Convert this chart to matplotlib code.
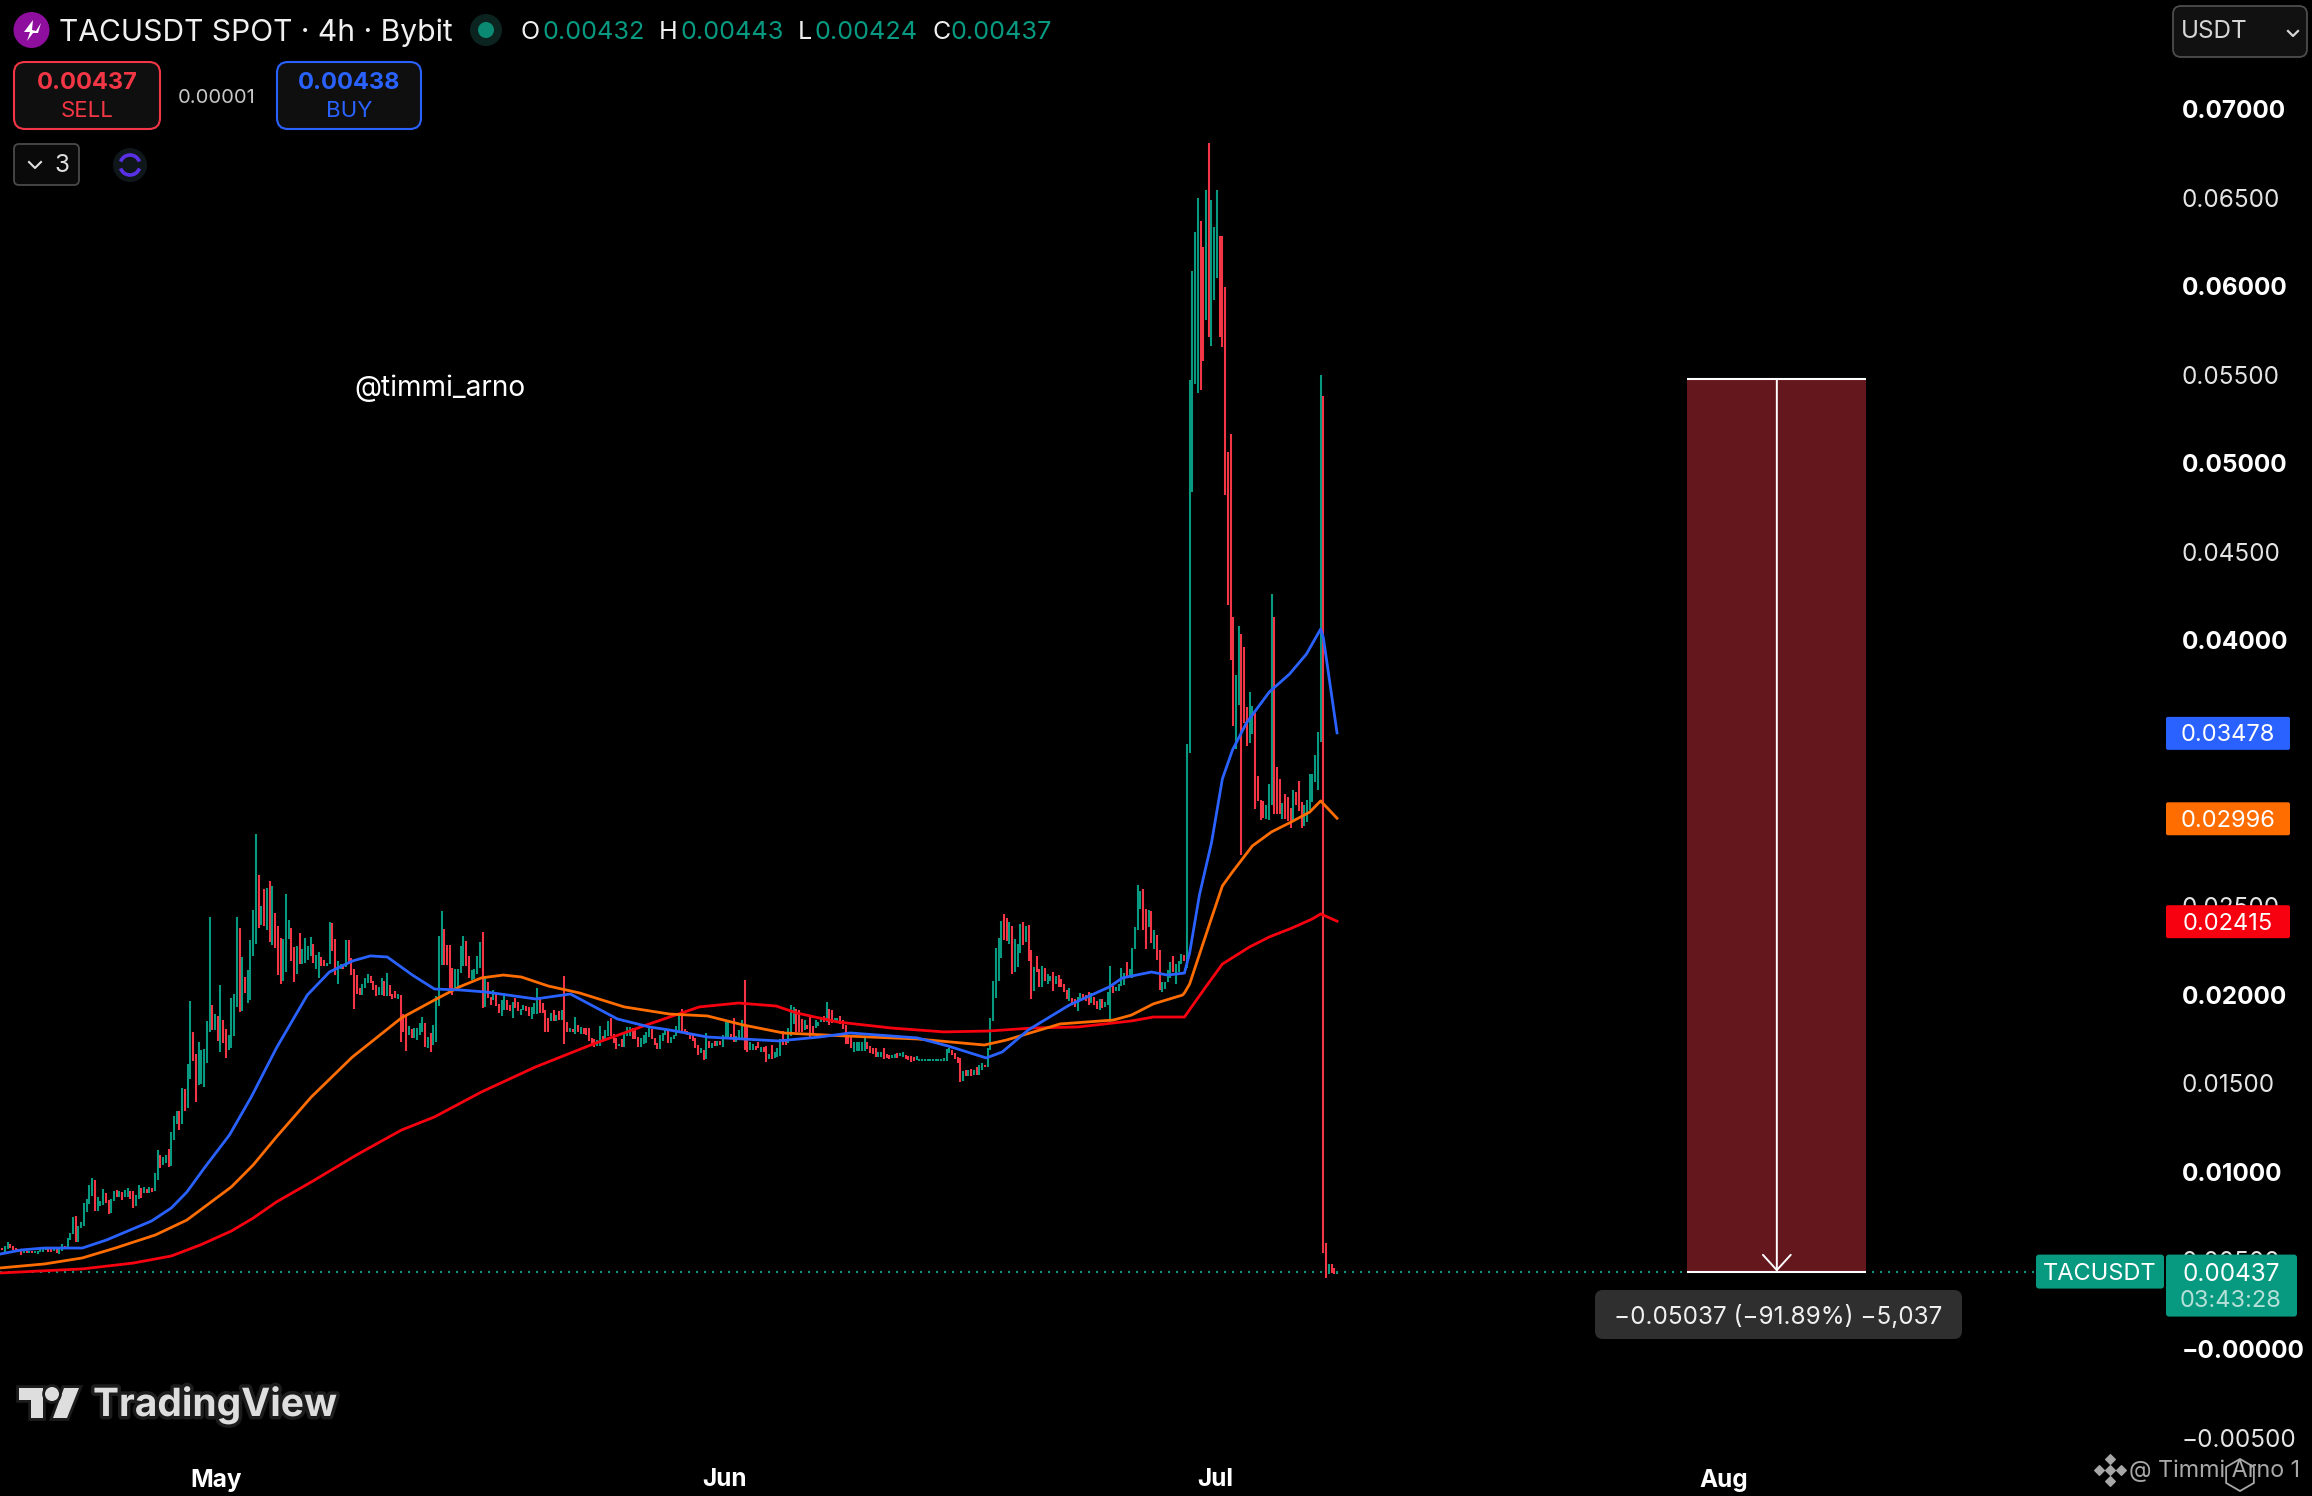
import numpy as np
import matplotlib
matplotlib.use("Agg")
import matplotlib.pyplot as plt
import matplotlib.patheffects as pe
from matplotlib.patches import Circle, FancyBboxPatch, Polygon, Rectangle, RegularPolygon, Arc

plt.rcParams['font.family'] = ['Inter', 'DejaVu Sans']

# candles are in units of 0.00001 USDT, ten per row, 4h each
candle_high = [
    570, 582, 604, 593, 582, 568, 563, 559, 557, 555,
    555, 555, 553, 553, 576, 566, 570, 570, 565, 563,
    565, 563, 591, 582, 627, 653, 745, 751, 694, 717,
    824, 847, 926, 965, 954, 858, 836, 903, 881, 841,
    847, 892, 898, 892, 886, 898, 909, 892, 892, 869,
    926, 909, 915, 903, 915, 909, 994, 1124, 1095, 1084,
    1095, 1129, 1225, 1316, 1344, 1344, 1474, 1468, 1609, 1965,
    1790, 1666, 1733, 1688, 1694, 1852, 2439, 1942, 1891, 1880,
    2055, 1858, 1807, 1773, 1982, 2004, 2439, 2377, 2213, 2100,
    2140, 2309, 2479, 2908, 2676, 2501, 2597, 2603, 2642, 2614,
    2462, 2388, 2321, 2315, 2569, 2422, 2377, 2270, 2275, 2349,
    2258, 2321, 2275, 2326, 2287, 2225, 2241, 2213, 2196, 2179,
    2411, 2405, 2315, 2191, 2174, 2168, 2309, 2309, 2207, 2145,
    2112, 2038, 2061, 2095, 2117, 2106, 2078, 2055, 2044, 2095,
    2078, 2123, 2055, 2004, 2021, 2004, 1999, 1891, 1880, 1824,
    1807, 1812, 1812, 1841, 1874, 1841, 1762, 1784, 1829, 1993,
    2332, 2473, 2371, 2281, 2281, 2151, 2145, 2145, 2275, 2332,
    2304, 2219, 2140, 2145, 2219, 2298, 2354, 2106, 2072, 1987,
    2027, 2010, 1948, 1970, 2010, 1970, 1942, 1959, 1982, 1959,
    1920, 1942, 1937, 1931, 1931, 1954, 2038, 1976, 1954, 1914,
    1869, 1897, 1914, 1886, 1908, 1914, 2106, 1846, 1812, 1807,
    1874, 1829, 1818, 1812, 1812, 1812, 1756, 1750, 1745, 1824,
    1767, 1801, 1852, 1869, 1778, 1756, 1722, 1750, 1790, 1818,
    1818, 1812, 1801, 1762, 1756, 1773, 1790, 1812, 1807, 1756,
    1728, 1773, 1784, 1807, 1801, 1762, 1773, 1824, 1886, 1920,
    1807, 1795, 1784, 1773, 1756, 1716, 1699, 1688, 1784, 1739,
    1728, 1739, 1739, 1739, 1773, 1846, 1846, 1778, 1869, 1767,
    1801, 1858, 2083, 1829, 1733, 1722, 1711, 1733, 1705, 1705,
    1711, 1666, 1716, 1677, 1699, 1750, 1795, 1745, 1812, 1942,
    1931, 1920, 1914, 1863, 1858, 1829, 1886, 1824, 1858, 1846,
    1863, 1880, 1959, 1920, 1914, 1869, 1869, 1880, 1858, 1829,
    1773, 1762, 1733, 1733, 1733, 1733, 1756, 1733, 1711, 1699,
    1699, 1677, 1677, 1699, 1666, 1660, 1660, 1666, 1671, 1671,
    1677, 1660, 1654, 1654, 1649, 1654, 1637, 1635, 1635, 1635,
    1635, 1635, 1635, 1639, 1639, 1643, 1694, 1699, 1688, 1671,
    1651, 1643, 1570, 1575, 1575, 1581, 1575, 1592, 1603, 1615,
    1603, 1699, 1869, 2078, 2264, 2321, 2416, 2456, 2433, 2411,
    2388, 2315, 2287, 2400, 2411, 2388, 2394, 2253, 2157, 2219,
    2145, 2162, 2151, 2117, 2106, 2129, 2106, 2112, 2089, 2061,
    2027, 2038, 1982, 1976, 1987, 2010, 2004, 1999, 2016, 2010,
    1987, 1965, 1976, 1976, 1959, 2016, 2162, 2049, 2044, 2061,
    2151, 2123, 2185, 2145, 2264, 2383, 2620, 2586, 2597, 2484,
    2479, 2473, 2366, 2337, 2253, 2072, 2072, 2140, 2185, 2219,
    2174, 2191, 2230, 2225, 3415, 5470, 6085, 6305, 6497, 6368,
    6221, 6543, 6808, 6486, 6334, 6543, 6283, 6283, 5995, 5064,
    5165, 4132, 3805, 4081, 4036, 3963, 3624, 3709, 3630, 3590,
    3235, 3099, 3094, 3071, 3190, 4262, 4132, 3285, 3218, 3082,
    3133, 3116, 3054, 3156, 3144, 3206, 3088, 3071, 3099, 3246,
    3246, 3353, 3483, 5498, 5380, 598, 480, 480, 457, 443,
]
candle_low = [
    561, 548, 566, 570, 559, 553, 550, 531, 544, 542,
    544, 542, 544, 536, 548, 548, 559, 548, 548, 551,
    542, 536, 551, 566, 566, 615, 649, 604, 604, 683,
    694, 774, 819, 864, 779, 779, 807, 813, 824, 762,
    768, 836, 858, 858, 841, 858, 858, 847, 796, 807,
    847, 853, 881, 881, 881, 886, 892, 954, 1022, 1039,
    1050, 1027, 1033, 1180, 1270, 1236, 1270, 1344, 1361, 1524,
    1626, 1395, 1491, 1496, 1479, 1615, 1790, 1801, 1801, 1739,
    1677, 1728, 1643, 1688, 1699, 1767, 1931, 1903, 1908, 2010,
    1954, 1970, 2219, 2287, 2377, 2394, 2388, 2366, 2298, 2281,
    2264, 2112, 2061, 2078, 2129, 2315, 2191, 2072, 2117, 2174,
    2174, 2179, 2196, 2219, 2179, 2145, 2095, 2162, 2162, 2162,
    2174, 2247, 2112, 2061, 2145, 2145, 2157, 2179, 2112, 1920,
    2004, 1999, 1999, 2038, 2066, 2066, 2027, 1993, 1999, 1999,
    1993, 1993, 1993, 1976, 1982, 1976, 1733, 1790, 1683, 1773,
    1756, 1756, 1745, 1773, 1790, 1705, 1699, 1677, 1716, 1733,
    1937, 2168, 2168, 2168, 2027, 1999, 2027, 2038, 2123, 2162,
    2162, 2095, 2083, 2089, 2117, 2151, 1925, 1931, 1982, 1942,
    1970, 1937, 1897, 1880, 1914, 1914, 1908, 1869, 1925, 1908,
    1886, 1914, 1908, 1880, 1863, 1891, 1891, 1897, 1897, 1790,
    1790, 1852, 1852, 1852, 1858, 1858, 1722, 1790, 1790, 1790,
    1778, 1790, 1778, 1778, 1773, 1739, 1716, 1705, 1711, 1711,
    1739, 1752, 1767, 1767, 1726, 1694, 1711, 1705, 1705, 1767,
    1767, 1750, 1750, 1705, 1705, 1722, 1728, 1762, 1750, 1716,
    1694, 1694, 1739, 1773, 1728, 1728, 1750, 1767, 1790, 1790,
    1778, 1773, 1750, 1739, 1699, 1660, 1671, 1632, 1637, 1699,
    1699, 1711, 1711, 1716, 1705, 1762, 1762, 1750, 1733, 1733,
    1745, 1750, 1688, 1677, 1688, 1688, 1688, 1699, 1677, 1677,
    1620, 1637, 1637, 1643, 1649, 1654, 1716, 1714, 1728, 1767,
    1835, 1790, 1790, 1790, 1801, 1807, 1750, 1773, 1812, 1824,
    1846, 1846, 1846, 1829, 1841, 1846, 1846, 1835, 1807, 1722,
    1722, 1699, 1677, 1682, 1682, 1682, 1682, 1694, 1671, 1666,
    1649, 1649, 1649, 1637, 1643, 1637, 1643, 1643, 1643, 1654,
    1649, 1637, 1632, 1620, 1626, 1632, 1626, 1626, 1628, 1628,
    1628, 1628, 1628, 1628, 1628, 1628, 1628, 1673, 1660, 1637,
    1613, 1507, 1513, 1541, 1541, 1541, 1547, 1547, 1547, 1575,
    1592, 1592, 1688, 1852, 1982, 2078, 2208, 2309, 2304, 2287,
    2117, 2129, 2157, 2236, 2281, 2298, 2191, 1976, 2021, 2129,
    2044, 2044, 2078, 2061, 2078, 2021, 2061, 2044, 2044, 2016,
    1976, 1965, 1954, 1931, 1908, 1965, 1970, 1965, 1942, 1954,
    1942, 1920, 1914, 1925, 1931, 1942, 1846, 2010, 2021, 2021,
    2049, 2055, 2095, 2100, 2095, 2258, 2366, 2484, 2366, 2258,
    2383, 2292, 2258, 2196, 2027, 2016, 2033, 2072, 2095, 2129,
    2061, 2129, 2174, 2191, 2151, 3364, 4838, 5448, 5397, 5414,
    5577, 5809, 5713, 5662, 5922, 6046, 5713, 5656, 4821, 4200,
    3889, 3517, 3387, 3635, 2789, 3534, 3404, 3421, 3472, 3048,
    3094, 2986, 2998, 2992, 2986, 3071, 3020, 3020, 3020, 2992,
    2992, 2981, 2941, 2986, 3071, 3037, 2941, 2952, 2975, 3043,
    3088, 3201, 3156, 3427, 542, 401, 423, 429, 423, 424,
]
candle_side = (
    "rggrrrrrgr" "grgggggrrg" "rggrgggrgg" "ggggrgggrr" "ggrgrggrrg"
    "grgrgrggrg" "grgggrgrgg" "rrgggggrgr" "grrggggrgr" "ggggrgrgrg"
    "rrrgggrrgr" "ggggrggrrg" "grrggrgrrr" "rrgggrrrgg" "rgrrrgrrrg"
    "rggggrgrgg" "ggrrrrgggg" "rrggggrgrr" "grrggrrgrr" "ggrrgggrrr"
    "rgrgrgrrgr" "grgrrrrrgg" "rggrrrgrgg" "grrrggggrr" "rgggrggggr"
    "rrrrrrgrgr" "grgrgggrrg" "ggrrggrrgr" "rgrgggrrgg" "grrrgrrrgg"
    "grgrrggrrr" "rrgggggrrr" "rggrrrggrg" "grrrrggggg" "ggggggggrr"
    "rrgrgrgrgg" "rggggggrrg" "rgggrgrrgr" "rgrggrgrrr" "rgrrggrrrg"
    "rrgrgggrgg" "ggrgggggrr" "grgrrggggr" "gggrgggggr" "rgrgggrrrr"
    "rrggrrrggr" "rrrgggrrrg" "rrrgrrrggg" "ggggrrgrrg"
)

# moving averages: candle position and value (0.00001 USDT)
ema_fast_pos = [-1, 7, 15.5, 29.4, 38.2, 54.7, 62, 67.7, 74.1, 83.3, 91.3, 100.5, 111.8, 119.9,
                128.3, 134.9, 141.1, 150.3, 158.4, 167.5, 177.4, 195.4, 208.2, 225.4, 237.1,
                244.4, 258.4, 284.4, 299.4, 310.7, 335.3, 346.6, 360.5, 366.4, 375.9, 391,
                405.6, 410.4, 421, 426.9, 433.1, 435, 438.6, 443, 447, 450.7, 455.8, 464.2,
                471.6, 477.8, 483, 484, 489]
ema_fast = [535, 559, 570, 570, 615, 722, 796, 886, 1022, 1208, 1423, 1699, 1998, 2128,
            2190, 2219, 2213, 2111, 2032, 2027, 2015, 1976, 2004, 1863, 1818,
            1801, 1761, 1739, 1761, 1784, 1756, 1710, 1643, 1677, 1801, 1942,
            2044, 2095, 2128, 2111, 2122, 2235, 2563, 2856, 3218, 3381, 3534, 3709,
            3810, 3923, 4064, 4014, 3478]
ema_mid_pos = [-1, 15.5, 29.4, 41.5, 56.2, 67.7, 84, 92, 100.5, 113.3, 128.3, 146.3, 158.4, 167.5,
               175.6, 183.6, 190.2, 200.1, 211.5, 227.9, 244.4, 258.4, 271.5, 286.2, 309,
               335.3, 359.8, 367.9, 387.6, 407.1, 413.7, 421.7, 432.4, 433.1, 435, 442.3,
               447, 450.7, 458, 465, 471.6, 479, 483, 489]
ema_mid = [457, 480, 514, 570, 644, 728, 915, 1039, 1197, 1423, 1648, 1869, 1970, 2044,
           2095, 2111, 2100, 2049, 2010, 1931, 1891, 1880, 1829, 1784, 1767,
           1750, 1716, 1744, 1835, 1857, 1885, 1948, 1998, 2010, 2060, 2399,
           2614, 2693, 2840, 2919, 2970, 3031, 3094, 2996]
ema_slow_pos = [-1, 29.4, 48, 62, 72.6, 84, 92, 100.5, 113.3, 129.8, 146.3, 158.4, 175.6, 195.4,
                216.6, 236, 255.4, 269.8, 283.6, 291, 306.1, 325.7, 345, 361.3, 377.7,
                394.2, 413.7, 421.7, 432.4, 433.1, 440.5, 447, 456.9, 464.2, 472.6, 480, 483, 489]
ema_slow = [429, 452, 485, 525, 587, 666, 739, 830, 943, 1095, 1236, 1310, 1451, 1592,
            1722, 1829, 1931, 1953, 1936, 1897, 1846, 1812, 1790, 1795, 1812,
            1818, 1852, 1874, 1874, 1874, 2035, 2173, 2269, 2326, 2377, 2428, 2456, 2415]

last_price = 437
price_tags = [(ema_fast[-1], '#2962ff'), (ema_mid[-1], '#ff6d00'), (ema_slow[-1], '#f7000f')]
measure_top = 5474
measure_left, measure_right = 617.3, 682.9

price_ticks = [-500, 0, 500, 1000, 1500, 2000, 2500, 3000, 3500, 4000, 4500, 5000, 5500, 6000, 6500, 7000]
price_labels = ['\u22120.00500', '\u22120.00000', '0.00500', '0.01000', '0.01500', '0.02000', '0.02500',
                '0.03000', '0.03500', '0.04000', '0.04500', '0.05000', '0.05500', '0.06000', '0.06500', '0.07000']
price_bold = [False, True, False, True, False, True, False, True, False, True, False, True, False, True, False, True]
month_ticks = [78.5, 264.5, 444.5, 630.5]
month_labels = ['May', 'Jun', 'Jul', 'Aug']

GREEN = '#089981'
RED = '#f23645'
BLUE = '#2962ff'

fig = plt.figure(figsize=(23.12, 14.96), dpi=100, facecolor='black')
ax = fig.add_axes([0, 1 - 1456 / 1496, 2172 / 2312, 1456 / 1496], facecolor='black')
ax.set_xlim(-0.75, 794.85)
ax.set_ylim(-604, 7615)
for s in ax.spines.values():
    s.set_visible(False)

positions = np.arange(len(candle_high))
colors = [GREEN if c == 'g' else RED for c in candle_side]
ax.hlines(last_price, -0.75, 794.85, color=GREEN, lw=1.44, linestyle=(0, (1, 3)), zorder=1)

ax.add_patch(Rectangle((measure_left, last_price), measure_right - measure_left, measure_top - last_price,
                       facecolor='#64181e', edgecolor='none', zorder=1.5))
ax.hlines([measure_top, last_price], measure_left, measure_right, color='white', lw=1.5, zorder=2)
ax.annotate('', xy=((measure_left + measure_right) / 2, last_price), xytext=((measure_left + measure_right) / 2, measure_top),
            arrowprops=dict(arrowstyle='->,head_length=0.55,head_width=0.5', color='white', lw=1.4,
                            shrinkA=0, shrinkB=0, mutation_scale=20), zorder=2)

ax.vlines(positions, candle_low, candle_high, colors=colors, linewidth=1.5, zorder=3)
ax.plot(ema_slow_pos, ema_slow, color='#f7000f', lw=2.0, zorder=4)
ax.plot(ema_mid_pos, ema_mid, color='#ff6d00', lw=2.0, zorder=4.1)
ax.plot(ema_fast_pos, ema_fast, color=BLUE, lw=2.0, zorder=4.2)

ax.yaxis.tick_right()
ax.set_yticks(price_ticks)
ax.set_yticklabels(price_labels)
ax.set_xticks(month_ticks)
ax.set_xticklabels(month_labels, fontweight='bold')
ax.tick_params(axis='y', length=0, pad=7, labelsize=17.5, colors='white')
ax.tick_params(axis='x', length=0, pad=9, labelsize=17.5, colors='white')
for lab, bold in zip(ax.get_yticklabels(), price_bold):
    lab.set_fontweight('bold' if bold else 'normal')
    lab.set_color('white' if bold else '#e4e4e4')

# overlay in screen pixels for the toolbar, tags and logos
ui = fig.add_axes([0, 0, 1, 1], facecolor='none')
ui.set_xlim(0, 2312)
ui.set_ylim(1496, 0)
ui.axis('off')


def price_y(v):
    p = ax.transData.transform((0, v))
    return ui.transData.inverted().transform(p)[1]


def box(x0, y0, x1, y1, fc, ec='none', r=3, lw=0, z=5):
    ui.add_patch(FancyBboxPatch((x0, y0), x1 - x0, y1 - y0, boxstyle=f'round,pad=0,rounding_size={r}',
                                facecolor=fc, edgecolor=ec, linewidth=lw, zorder=z))


def label(x, y, s, size=17.5, color='white', ha='left', weight='normal', z=6):
    return ui.text(x, y + 2.5, s, fontsize=size, color=color, ha=ha, va='center', fontweight=weight, zorder=z)


# header
ui.add_patch(Circle((31.5, 30), 18, facecolor='#8e0f9e', zorder=5))
ui.add_patch(Polygon([[33, 20], [24, 32], [30, 32], [27, 41], [33, 33], [38, 33], [41, 23], [36, 31], [32, 30]],
                     facecolor='white', zorder=6))
label(59, 30, 'TACUSDT SPOT \u00b7 4h \u00b7 Bybit', size=21.6, color='#f0f0f0')
ui.add_patch(Circle((486, 30), 16, facecolor='#0b2420', zorder=5))
ui.add_patch(Circle((486, 30), 8, facecolor='#0a8a73', zorder=6))
ohlc = [('O', '0.00432', 521, 543), ('H', '0.00443', 659, 681), ('L', '0.00424', 798, 814), ('C', '0.00437', 933, 950)]
for letter, val, x0, x1 in ohlc:
    label(x0, 30, letter, size=18, color='#f0f0f0')
    label(x1, 30, val, size=18.2, color=GREEN)

box(14, 62, 160, 129, '#0f0f0f', RED, r=11, lw=1.5)
label(87, 80, '0.00437', size=17, color=RED, ha='center', weight='bold')
label(87, 108, 'SELL', size=16, color=RED, ha='center')
label(217, 95, '0.00001', size=14.5, color='#c8c8c8', ha='center')
box(277, 62, 421, 129, '#0f0f0f', BLUE, r=11, lw=1.5)
label(349, 80, '0.00438', size=17, color=BLUE, ha='center', weight='bold')
label(349, 108, 'BUY', size=16, color=BLUE, ha='center')

box(14, 144, 79, 185, '#0a0a0a', '#4a4a4a', r=5, lw=1.3)
ui.plot([29, 35, 41], [162, 168, 162], color='#e0e0e0', lw=1.5, zorder=6)
label(62, 163, '3', size=17.5, color='#e0e0e0', ha='center')
ui.add_patch(Circle((130, 165), 17, facecolor='#10171b', zorder=5))
ui.add_patch(Arc((130, 165), 20, 20, theta1=20, theta2=160, color='#5a30e6', lw=2.6, zorder=6))
ui.add_patch(Arc((130, 165), 20, 20, theta1=200, theta2=340, color='#5a30e6', lw=2.6, zorder=6))

box(2173, 6, 2307, 57, '#111111', '#4d4d4d', r=8, lw=1.3)
label(2181, 29, 'USDT', size=17.5, color='#d6d6d6')
ui.plot([2288, 2293, 2298], [31, 36, 31], color='#d6d6d6', lw=1.6, zorder=6)

label(354, 386, '@timmi_arno', size=20.2, color='white')

# price tags
for val, col in price_tags:
    y = price_y(val)
    box(2166, y - 16, 2290, y + 17, col, r=2)
    label(2228, y, f'{val / 1e5:.5f}', size=17, ha='center')

y_last = price_y(last_price)
box(2036, y_last - 17, 2164, y_last + 17, GREEN, r=3)
label(2100, y_last, 'TACUSDT', size=17, ha='center')
box(2166, y_last - 17, 2297, y_last + 45, GREEN, r=3)
label(2231, y_last, f'{last_price / 1e5:.5f}', size=17.5, ha='center')
label(2231, y_last + 27, '03:43:28', size=17, color='#b5e0d8', ha='center')

box(1595, 1290, 1962, 1339, '#2f2f2f', r=8)
label(1778, 1314, '\u22120.05037 (\u221291.89%) \u22125,037', size=17.5, color='#f0f0f0', ha='center')

# TradingView mark
halo = [pe.withStroke(linewidth=5, foreground='#1c1c1c')]
logo = '#dedede'
t_bar = Polygon([[19, 1388], [43, 1388], [43, 1418], [31, 1418], [31, 1400], [19, 1400]], facecolor=logo, zorder=6)
slash = Polygon([[64, 1388], [79, 1388], [67, 1418], [53, 1418]], facecolor=logo, zorder=6)
dot = Circle((52, 1394), 7, facecolor=logo, zorder=6)
for patch in (t_bar, slash, dot):
    patch.set_path_effects([pe.withStroke(linewidth=4, foreground='#1c1c1c')])
    ui.add_patch(patch)
tv = label(93, 1402, 'TradingView', size=28, color=logo, weight='bold')
tv.set_path_effects(halo)

# repost watermark
wm = '#a8a8a8'
ui.scatter([2110, 2099, 2121, 2110, 2110], [1470, 1470, 1470, 1459, 1481], marker='D', s=24, color=wm, zorder=6)
label(2129, 1468, '@ Timmi Arno 1', size=16.8, color=wm)
ui.add_patch(RegularPolygon((2240, 1475), 6, radius=16, fill=False, edgecolor=wm, linewidth=1.3, zorder=6))

fig.savefig('out.png', dpi=100, facecolor='black')
